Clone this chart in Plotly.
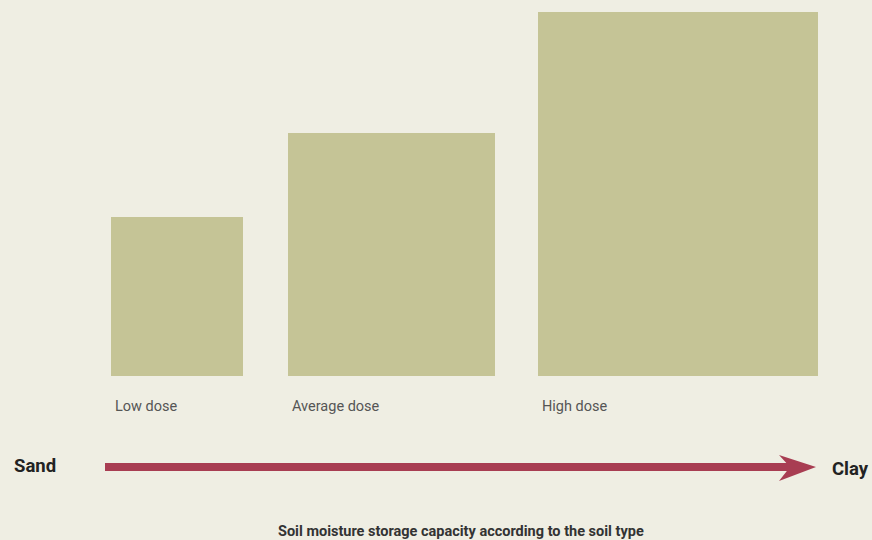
import plotly.graph_objects as go

# Data
categories = ["Low dose", "Average dose", "High dose"]
capacity = [159, 243, 364]          # relative soil moisture storage capacity (bar height)
dose_width = [132, 207, 280]        # relative dose (bar width)
gaps = [111, 45, 43]                # spacing before each bar
axis_labels = ["Sand", "Clay"]
title = "Soil moisture storage capacity according to the soil type"

BG = "#efeee3"
BAR = "#c5c496"
ARROW = "#a83d52"
FONT = "Roboto, sans-serif"

lefts = []
pos = 0
for g, w in zip(gaps, dose_width):
    pos += g
    lefts.append(pos)
    pos += w
centers = [l + w / 2 for l, w in zip(lefts, dose_width)]

fig = go.Figure()
fig.add_trace(go.Bar(
    x=centers, y=capacity, width=dose_width,
    marker=dict(color=BAR, line=dict(width=0)),
    hoverinfo="skip",
))

for c, l in zip(categories, lefts):
    fig.add_annotation(x=l + 2, y=-30, text=c, showarrow=False, xanchor="left",
                       yanchor="middle",
                       font=dict(family=FONT, size=14.5, color="#555555"))

# arrow (sand -> clay)
ay = -91
fig.add_shape(type="line", x0=105, x1=790, y0=ay, y1=ay,
              line=dict(color=ARROW, width=8))
fig.add_shape(type="path",
              path=f"M 816 {ay} L 779 {ay+12} L 790 {ay} L 779 {ay-14} Z",
              fillcolor=ARROW, line=dict(width=0))

fig.add_annotation(x=12, y=ay + 1, text=f"<b>{axis_labels[0]}</b>", showarrow=False,
                   xanchor="left",
                   font=dict(family=FONT, size=18.5, color="#222222"))
fig.add_annotation(x=871, y=ay - 2, text=f"<b>{axis_labels[1]}</b>", showarrow=False,
                   xanchor="right",
                   font=dict(family=FONT, size=18.5, color="#222222"))
fig.add_annotation(x=461, y=-155, text=f"<b>{title}</b>", showarrow=False,
                   font=dict(family=FONT, size=14.5, color="#333333"))

fig.update_layout(
    width=872, height=540,
    margin=dict(l=0, r=0, t=0, b=0),
    paper_bgcolor=BG, plot_bgcolor=BG,
    showlegend=False,
    xaxis=dict(range=[0, 872], visible=False, fixedrange=True),
    yaxis=dict(range=[-164, 376], visible=False, fixedrange=True),
    bargap=0,
)

fig.write_html("out.html")
